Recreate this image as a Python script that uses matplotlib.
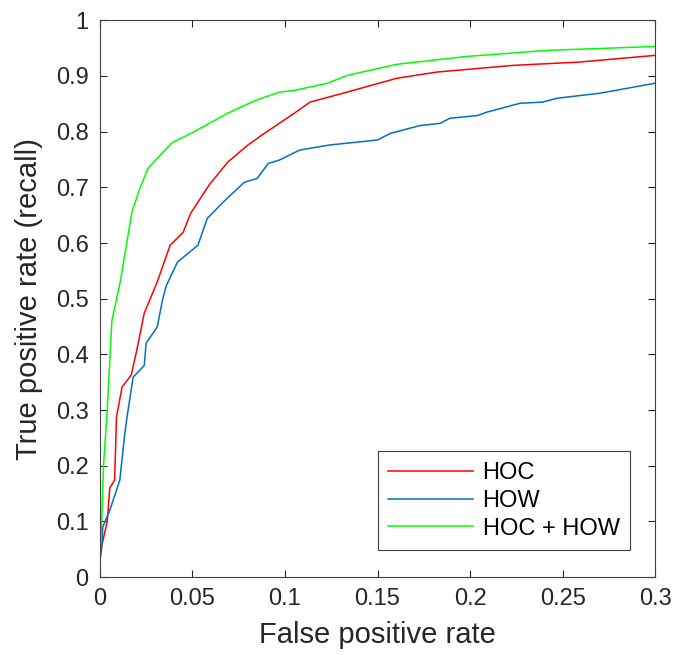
import matplotlib
matplotlib.use("Agg")
import matplotlib.pyplot as plt

plt.rcParams["font.family"] = ["Liberation Sans", "DejaVu Sans"]

# ROC curves (false positive rate, recall)
hoc_fpr = [0, 0.004, 0.0054, 0.008, 0.009, 0.012, 0.017, 0.020, 0.024, 0.031,
           0.038, 0.045, 0.049, 0.059, 0.069, 0.080, 0.0876, 0.097, 0.105,
           0.1135, 0.1335, 0.1605, 0.182, 0.223, 0.259, 0.3]
hoc_tpr = [0.04, 0.10, 0.16, 0.174, 0.287, 0.341, 0.363, 0.408, 0.474, 0.53,
           0.596, 0.619, 0.653, 0.704, 0.745, 0.776, 0.794, 0.815, 0.833,
           0.853, 0.871, 0.896, 0.907, 0.919, 0.925, 0.937]

how_fpr = [0, 0.001, 0.0016, 0.0054, 0.0108, 0.0135, 0.015, 0.018, 0.024, 0.025,
           0.031, 0.034, 0.036, 0.042, 0.053, 0.058, 0.0665, 0.078, 0.085,
           0.091, 0.097, 0.108, 0.124, 0.150, 0.157, 0.173, 0.184, 0.189,
           0.204, 0.209, 0.227, 0.239, 0.247, 0.270, 0.3]
how_tpr = [0.03, 0.05, 0.09, 0.12, 0.174, 0.258, 0.294, 0.359, 0.38, 0.42,
           0.449, 0.50, 0.524, 0.566, 0.596, 0.644, 0.673, 0.709, 0.716,
           0.743, 0.749, 0.767, 0.776, 0.785, 0.797, 0.811, 0.815, 0.824,
           0.829, 0.835, 0.851, 0.853, 0.86, 0.869, 0.887]

both_fpr = [0, 0.001, 0.002, 0.004, 0.0065, 0.011, 0.0173, 0.0216, 0.026,
            0.031, 0.039, 0.051, 0.069, 0.084, 0.097, 0.105, 0.123, 0.1335,
            0.1605, 0.198, 0.2416, 0.3]
both_tpr = [0.03, 0.10, 0.2, 0.3, 0.46, 0.53, 0.655, 0.698, 0.734,
            0.752, 0.78, 0.80, 0.833, 0.856, 0.871, 0.874, 0.887, 0.901,
            0.921, 0.935, 0.946, 0.953]

fig = plt.figure(figsize=(6.79, 6.55), dpi=100)
ax = fig.add_axes([0.147, 0.119, 0.818, 0.850])

ax.plot(hoc_fpr, hoc_tpr, color="#ff0000", lw=1.1, label="HOC")
ax.plot(how_fpr, how_tpr, color="#0072bd", lw=1.1, label="HOW")
ax.plot(both_fpr, both_tpr, color="#00ff00", lw=1.1, label="HOC + HOW")

ax.set_xlim(0, 0.3)
ax.set_ylim(0, 1)
ax.set_xticks([0, 0.05, 0.1, 0.15, 0.2, 0.25, 0.3])
ax.set_xticklabels(["0", "0.05", "0.1", "0.15", "0.2", "0.25", "0.3"])
ax.set_yticks([i / 10 for i in range(11)])
ax.set_yticklabels(["0", "0.1", "0.2", "0.3", "0.4", "0.5", "0.6", "0.7", "0.8", "0.9", "1"])
ax.tick_params(direction="in", top=True, right=True, labelsize=17, length=5,
               color="#262626", labelcolor="#262626")
ax.tick_params(axis="y", pad=8)
ax.tick_params(axis="x", pad=8)
for s in ax.spines.values():
    s.set_color("#404040")
    s.set_linewidth(0.8)

ax.set_xlabel("False positive rate", fontsize=21, color="#262626", labelpad=8)
ax.set_ylabel("True positive rate (recall)", fontsize=21, color="#262626", labelpad=9)

leg = ax.legend(loc="lower right", bbox_to_anchor=(0.955, 0.048), fontsize=17,
                fancybox=False, framealpha=1, edgecolor="#404040",
                handlelength=3.6, handletextpad=0.4, borderaxespad=0,
                labelspacing=0.25, borderpad=0.45)
leg.get_frame().set_linewidth(0.8)

fig.savefig("out.png", dpi=100)
